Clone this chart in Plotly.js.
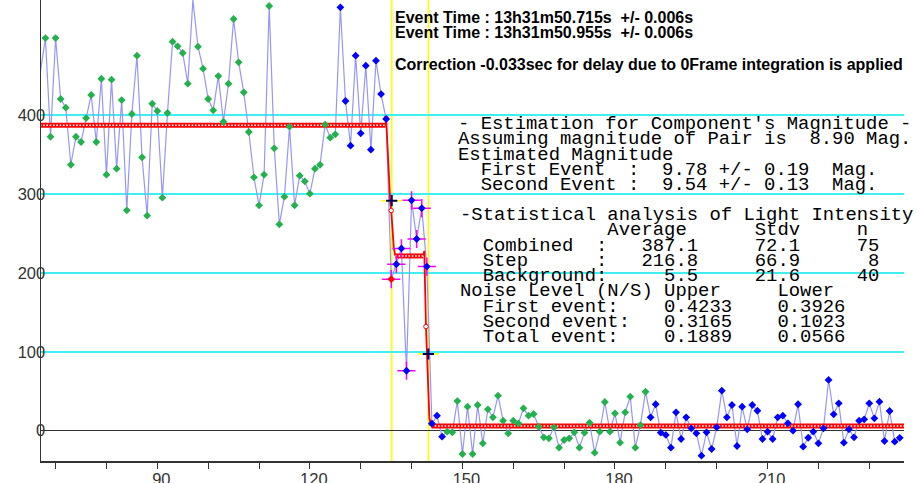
<!DOCTYPE html>
<html><head><meta charset="utf-8">
<script src="https://cdn.plot.ly/plotly-3.0.1.min.js"></script>
<style>html,body{margin:0;padding:0;background:#fff}#chart{width:917px;height:483px}</style>
</head><body><div id="chart"></div>
<script>
// ---------------- data ----------------
const firstFrame = 67;
const intensity = [
 454.6, 497.7, 372.6, 497.7, 420.4, 409.4, 337.1, 372.6, 365.9, 396.3,
 425.5, 365.9, 446.1, 324.5, 444.9, 332.1, 419.1, 279.3, 401.4, 475.3,
 346.5, 272.5, 414.4, 405.2, 295.3, 402.7, 493.1, 487.2, 478.7, 439.8,
 546.0, 486.7, 458.8, 420.4, 406.1, 449.5, 391.6, 439.8, 521.8, 466.9,
 428.9, 378.6, 321.2, 285.7, 324.5, 538.3, 357.9, 261.6, 296.6, 385.3,
 285.7, 323.2, 316.1, 300.4, 332.0, 337.0, 388.0, 371.4, 375.7, 536.6,
 417.9, 361.3, 475.3, 376.9, 462.6, 356.2, 469.0, 426.7, 395.0, 192.0,
 211.0, 231.0, 76.0, 292.0, 243.0, 282.0, 208.0, 9.0, 19.0, -7.6,
 -1.2, -2.1, 37.6, -29.5, 30.4, -29.5, 32.6, -16.0, 27.1, 17.0,
 44.4, 12.7, -3.3, 12.7, 9.3, 28.4, 19.0, 21.2, 5.0, -8.4,
 -9.6, 4.3, -21.5, -11.8, -9.6, -2.1, -21.5, -2.5, 10.1, -27.9,
 -1.2, 36.4, -1.2, 22.0, -15.2, 23.3, 43.1, -21.5, 7.0, 49.4,
 17.0, 33.5, -2.5, -5.4, -21.5, 23.3, -10.5, 17.0, 3.0, -3.3,
 -31.7, -2.1, -23.2, 4.3, 50.7, 17.0, 32.6, -19.4, 30.4, 1.8,
 32.6, 25.3, -10.5, -1.2, -10.5, 17.0, 19.0, 9.3, 0.0, 33.5,
 -20.3, -8.9, -1.2, -16.0, 3.0, 64.3, 20.7, 34.7, -15.2, 1.8,
 -8.4, 12.7, 14.4, 34.7, 15.7, 36.8, -13.1, 25.0, -13.9, -9.0
];
const combinedFrames = [67, 125];
const stepFrames = [136, 143];
const backgroundFrames = [147, 186];
const flaggedFrame = 136;

// fitted model (levels and transitions)
const fitBandX = [66.9, 134.9, null, 136.8, 142.3, null, 143.9, 236.9];
const fitBandY = [387.1, 387.1, null, 221.5, 221.5, null, 6.0, 6.0];
const fitRampX = [134.9, 135.0, 135.8, 136.0, 136.5, 136.8, null, 142.3, 142.5, 142.83, 143.5, 143.9];
const fitRampY = [387.1, 396.0, 290.0, 279.0, 232.0, 221.5, null, 221.5, 228.0, 132.0, 16.0, 6.0];
const fitNodeX = [135.0, 136.0, 142.83, 143.85];
const fitNodeY = [396.0, 279.0, 132.0, 9.0];

// events
const eventFrames = [136.1, 143.3];
const eventLevels = [291.5, 97.2];

const yTicks = [0, 100, 200, 300, 400];

const eventLines = [
 "Event Time : 13h31m50.715s  +/- 0.006s",
 "Event Time : 13h31m50.955s  +/- 0.006s",
 "Correction -0.033sec for delay due to 0Frame integration is applied"
];
const magLines = [
 "- Estimation for Component's Magnitude -",
 "Assuming magnitude of Pair is  8.90 Mag.",
 "Estimated Magnitude",
 "  First Event  :  9.78 +/- 0.19  Mag.",
 "  Second Event :  9.54 +/- 0.13  Mag."
];
const statLines = [
 "-Statistical analysis of Light Intensity",
 "             Average      Stdv     n",
 "  Combined  :   387.1     72.1     75",
 "  Step      :   216.8     66.9      8",
 "  Background:     5.5     21.6     40",
 "Noise Level (N/S) Upper     Lower",
 "  First event:    0.4233    0.3926",
 "  Second event:   0.3165    0.1023",
 "  Total event:    0.1889    0.0566"
];

// ---------------- build ----------------
const frames = intensity.map((_, i) => firstFrame + i);
const inR = (f, r) => f >= r[0] && f <= r[1];
const ptColor = frames.map(f => f === flaggedFrame ? '#ff0000' :
  (inR(f, combinedFrames) || inR(f, backgroundFrames)) ? '#22b14c' : '#0000ff');
const stepX = frames.filter(f => inR(f, stepFrames));
const stepY = stepX.map(f => intensity[f - firstFrame]);

const traces = [
  {x: frames, y: intensity, mode: 'lines', line: {color: 'rgb(150,150,250)', width: 1.2}, hoverinfo: 'skip'},
  {x: fitRampX, y: fitRampY, mode: 'lines', line: {color: '#ff0000', width: 1.8}, connectgaps: false},
  {x: fitBandX, y: fitBandY, mode: 'lines', line: {color: '#ff0000', width: 5}, connectgaps: false},
  {x: fitBandX, y: fitBandY, mode: 'lines', line: {color: '#ffffff', width: 1.6, dash: '1.6px,1.7px'}, connectgaps: false},
  {x: fitNodeX, y: fitNodeY, mode: 'markers', marker: {symbol: 'circle', size: 4.5, color: '#ffffff', line: {color: '#ff0000', width: 1}}},
  {x: stepX, y: stepY, mode: 'markers', marker: {symbol: 'cross-thin', size: 13, line: {color: '#ff00ff', width: 1.5}}},
  {x: frames, y: intensity, mode: 'markers', cliponaxis: false, marker: {symbol: 'diamond', size: 6, color: ptColor}},
  {x: eventFrames, y: eventLevels, mode: 'markers', marker: {symbol: 'line-ew', size: 15, line: {color: '#ffff00', width: 1.5}}},
  {x: eventFrames, y: eventLevels, mode: 'markers', marker: {symbol: 'cross-thin', size: 8, line: {color: '#000060', width: 2}}}
];

// pixel helpers (plot area: x 41..904, y 0..461)
const PL = 41, PW = 863, PT = 0, PH = 461;
const px2x = p => (p - PL) / PW;
const py2y = p => (PT + PH - p) / PH;
const nb = s => s.replace(/ /g, '\u00a0');

const annotations = [];
const evRows = [17.5, 32.5, 64.5];
eventLines.forEach((t, i) => annotations.push({
  xref: 'paper', yref: 'paper', x: px2x(393), y: py2y(evRows[i]), xanchor: 'left', yanchor: 'middle',
  text: nb(t), showarrow: false, font: {family: 'Liberation Sans', size: 16, color: '#000', weight: 'bold'}
}));
const monoFont = {family: 'Liberation Mono', size: 18.9, color: '#000'};
magLines.forEach((t, i) => annotations.push({
  xref: 'paper', yref: 'paper', x: px2x(456), y: py2y(124 + i * 15.25), xanchor: 'left', yanchor: 'middle',
  text: nb(t), showarrow: false, font: monoFont
}));
statLines.forEach((t, i) => annotations.push({
  xref: 'paper', yref: 'paper', x: px2x(458), y: py2y(215 + i * 15.25), xanchor: 'left', yanchor: 'middle',
  text: nb(t), showarrow: false, font: monoFont
}));

const layout = {
  width: 917, height: 483,
  margin: {l: 41, r: 13, t: 0, b: 22, pad: 0},
  paper_bgcolor: '#ffffff', plot_bgcolor: '#ffffff',
  showlegend: false,
  xaxis: {
    range: [67.13, 236.83], tick0: 0, dtick: 30, ticks: 'outside', ticklen: 6, tickwidth: 1, tickcolor: '#333',
    showline: true, linecolor: '#333', linewidth: 1.5, showgrid: false, zeroline: false,
    tickfont: {family: 'Liberation Sans', size: 16.5, color: '#333'}, ticklabelshift: 4, ticklabelstandoff: -3,
    minor: {tick0: 0, dtick: 10, ticks: 'outside', ticklen: 6, tickwidth: 1, tickcolor: '#333', showgrid: false}
  },
  yaxis: {
    range: [-38.4, 545.9], tickvals: yTicks, ticktext: yTicks.map(String), ticks: '',
    showline: true, linecolor: '#333', linewidth: 1.5,
    showgrid: true, gridcolor: '#40f0f0', gridwidth: 1.8,
    zeroline: true, zerolinecolor: '#333', zerolinewidth: 1.5,
    tickfont: {family: 'Liberation Sans', size: 16.5, color: '#333'}, ticklabelstandoff: -9
  },
  shapes: eventFrames.map(f => ({type: 'line', xref: 'x', yref: 'paper', x0: f, x1: f, y0: 0, y1: 1, layer: 'between', line: {color: '#ffff00', width: 1.6}})),
  annotations: annotations
};

Plotly.newPlot('chart', traces, layout, {staticPlot: true, displayModeBar: false});
</script></body></html>
